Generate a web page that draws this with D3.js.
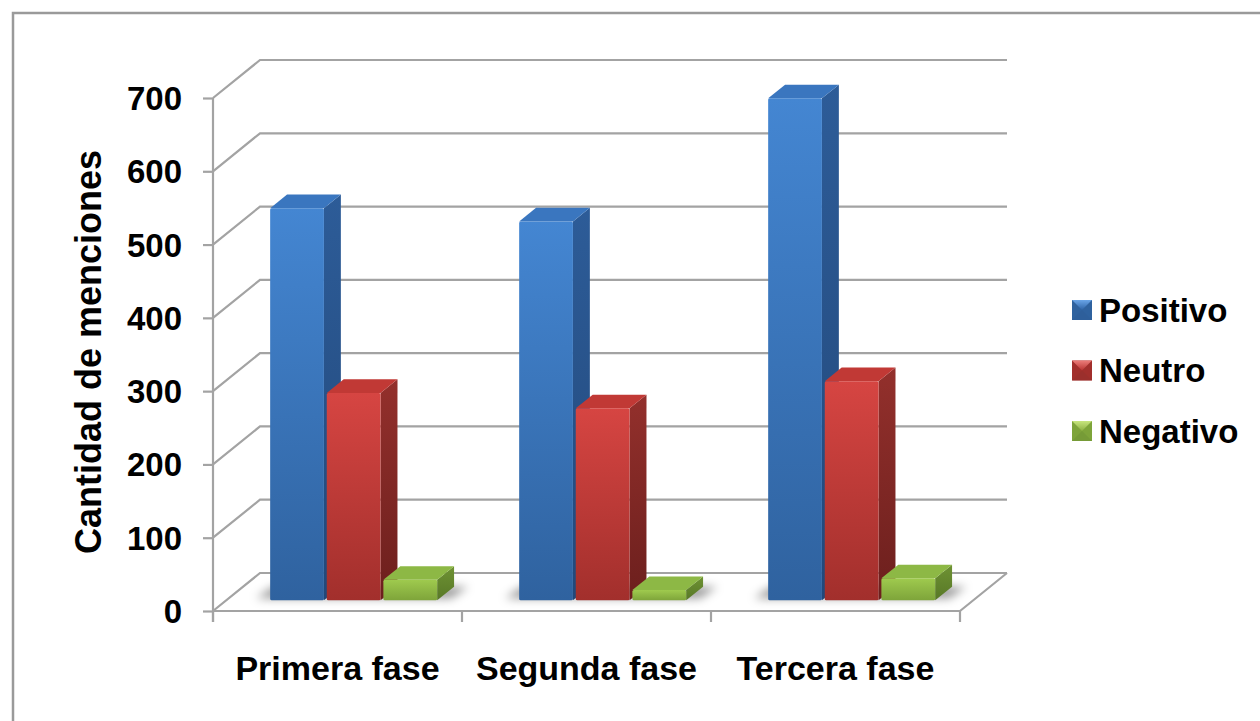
<!DOCTYPE html>
<html>
<head>
<meta charset="utf-8">
<script src="https://cdn.jsdelivr.net/npm/d3@7/dist/d3.min.js"></script>
<style>
  html, body { margin: 0; padding: 0; background: #fff; }
  svg { display: block; }
  text { font-family: "Liberation Sans", Arial, sans-serif; font-weight: bold; fill: #000; }
</style>
</head>
<body>
<svg id="chart" width="1260" height="721"></svg>
<script>
// Menciones por fase y tipo de valoración
const categories = ["Primera fase", "Segunda fase", "Tercera fase"];
const seriesNames = ["Positivo", "Neutro", "Negativo"];
const positivo = [535, 517, 685];
const neutro = [283, 262, 299];
const negativo = [28, 14, 30];
const yTicks = [0, 100, 200, 300, 400, 500, 600, 700];
const axisTitle = "Cantidad de menciones";

const seriesValues = [positivo, neutro, negativo];

// Colour sets per series: front (top/bottom), side (top/bottom), top face
const palette = [
  { front: ["#4486d2", "#2f629f"], side: ["#2d5c98", "#22487a"], top: "#3a76bf", marker: ["#6aa5e8", "#2e63a6"] },
  { front: ["#d64542", "#a22f2c"], side: ["#93302c", "#6c1f1d"], top: "#c13935", marker: ["#ec7d7a", "#b83331"] },
  { front: ["#9fca4e", "#7ea43a"], side: ["#6e9233", "#587827"], top: "#8db845", marker: ["#c8e67e", "#8db043"] }
];

const svg = d3.select("#chart");
const defs = svg.append("defs");

// Outer chart frame (top and left edges are visible)
svg.append("rect")
  .attr("x", 13).attr("y", 13)
  .attr("width", 1300).attr("height", 800)
  .attr("fill", "none")
  .attr("stroke", "#9a9a9a")
  .attr("stroke-width", 2.5);

// Scales on the front plane of the plot box
const x0 = d3.scaleBand().domain(categories).range([213, 960]).padding(0);
const y = d3.scaleLinear().domain([0, 700]).range([611, 98]);
// Oblique depth of the plot box
const depth = { dx: 47, dy: -38 };
// Bars occupy this slice of the depth
const barDepth = { from: 0.28, to: 0.64 };
const x1 = d3.scaleBand().domain(seriesNames)
  .range([44, 211]).paddingInner(0.05).paddingOuter(0);

const gridColor = "#a3a3a3";

// Back wall gridlines with their oblique links to the value axis
const grid = svg.append("g");
yTicks.forEach(v => {
  const fy = y(v);
  grid.append("path")
    .attr("d", `M${x0.range()[0]},${fy} L${x0.range()[0] + depth.dx},${fy + depth.dy} L${x0.range()[1] + depth.dx},${fy + depth.dy}`)
    .attr("fill", "none").attr("stroke", gridColor).attr("stroke-width", 2.2);
});

// Floor front and right edges
grid.append("path")
  .attr("d", `M${x0.range()[0]},${y(0)} L${x0.range()[1]},${y(0)} L${x0.range()[1] + depth.dx},${y(0) + depth.dy}`)
  .attr("fill", "none").attr("stroke", gridColor).attr("stroke-width", 2.2);

// Category ticks below the floor
const catTicks = categories.map(c => x0(c)).concat([x0.range()[1]]);
catTicks.forEach(tx => {
  grid.append("line")
    .attr("x1", tx).attr("x2", tx)
    .attr("y1", y(0)).attr("y2", y(0) + 11)
    .attr("stroke", gridColor).attr("stroke-width", 2.2);
});

// Value axis with ticks
const yAxis = d3.axisLeft(y).tickValues(yTicks).tickSize(10).tickPadding(20).tickFormat(d3.format("d"));
const yAxisG = svg.append("g").attr("transform", `translate(${x0.range()[0]},0)`).call(yAxis);
yAxisG.select(".domain").remove();
yAxisG.selectAll(".tick line").attr("stroke", gridColor).attr("stroke-width", 2.2);
yAxisG.selectAll(".tick text")
  .attr("font-size", 33).attr("font-weight", "bold").attr("fill", "#000")
  .attr("font-family", "'Liberation Sans', Arial, sans-serif")
  .attr("dy", "0.35em").attr("x", -31);
svg.append("line")
  .attr("x1", x0.range()[0]).attr("x2", x0.range()[0])
  .attr("y1", y(700)).attr("y2", y(0) + 11)
  .attr("stroke", gridColor).attr("stroke-width", 2.2);

// Category labels
svg.append("g").selectAll("text").data(categories).join("text")
  .attr("x", d => x0(d) + x0.bandwidth() / 2)
  .attr("y", 680)
  .attr("text-anchor", "middle")
  .attr("font-size", 34)
  .text(d => d);

// Value axis title
svg.append("text")
  .attr("transform", "translate(101,352) rotate(-90)")
  .attr("text-anchor", "middle")
  .attr("font-size", 36)
  .text(axisTitle);

// Gradients for bar faces
palette.forEach((p, i) => {
  const gf = defs.append("linearGradient").attr("id", `front${i}`)
    .attr("x1", 0).attr("y1", 0).attr("x2", 0).attr("y2", 1);
  gf.append("stop").attr("offset", "0%").attr("stop-color", p.front[0]);
  gf.append("stop").attr("offset", "100%").attr("stop-color", p.front[1]);
  const gs = defs.append("linearGradient").attr("id", `side${i}`)
    .attr("x1", 0).attr("y1", 0).attr("x2", 0).attr("y2", 1);
  gs.append("stop").attr("offset", "0%").attr("stop-color", p.side[0]);
  gs.append("stop").attr("offset", "100%").attr("stop-color", p.side[1]);
  const gm = defs.append("linearGradient").attr("id", `marker${i}`)
    .attr("x1", 0).attr("y1", 0).attr("x2", 0).attr("y2", 1);
  gm.append("stop").attr("offset", "0%").attr("stop-color", p.marker[0]);
  gm.append("stop").attr("offset", "100%").attr("stop-color", p.marker[1]);
});

// Soft floor shadow beneath the bars
const shadowFilter = defs.append("filter").attr("id", "floorShadow")
  .attr("x", "-30%").attr("y", "-100%").attr("width", "160%").attr("height", "300%");
shadowFilter.append("feGaussianBlur").attr("stdDeviation", 5);

const bars = [];
categories.forEach((c, ci) => {
  seriesNames.forEach((s, si) => {
    bars.push({ cat: c, series: s, si, value: seriesValues[si][ci] });
  });
});

const f0 = barDepth.from, f1 = barDepth.to;
function barGeom(d) {
  const left = x0(d.cat) + x1(d.series) + depth.dx * f0;
  const right = left + x1.bandwidth();
  const base = y(0) + depth.dy * f0;
  const top = base - (y(0) - y(d.value));
  const ddx = depth.dx * (f1 - f0), ddy = depth.dy * (f1 - f0);
  return { left, right, base, top, ddx, ddy };
}

const shadowG = svg.append("g").attr("filter", "url(#floorShadow)");
categories.forEach(c => {
  const first = barGeom({ cat: c, series: seriesNames[0], value: 0 });
  const last = barGeom({ cat: c, series: seriesNames[2], value: 0 });
  shadowG.append("path")
    .attr("d", `M${first.left - 14},${first.base - 2} L${last.right + 14},${first.base - 2} L${last.right + 14 + first.ddx},${first.base + first.ddy} L${first.left - 14 + first.ddx},${first.base + first.ddy} Z`)
    .attr("fill", "#000").attr("opacity", 0.4);
});

const barG = svg.append("g");
bars.forEach(d => {
  const g = barGeom(d);
  const p = palette[d.si];
  const grp = barG.append("g");
  // right side face
  grp.append("path")
    .attr("d", `M${g.right},${g.base} L${g.right + g.ddx},${g.base + g.ddy} L${g.right + g.ddx},${g.top + g.ddy} L${g.right},${g.top} Z`)
    .attr("fill", `url(#side${d.si})`);
  // top face
  grp.append("path")
    .attr("d", `M${g.left},${g.top} L${g.left + g.ddx},${g.top + g.ddy} L${g.right + g.ddx},${g.top + g.ddy} L${g.right},${g.top} Z`)
    .attr("fill", p.top);
  // front face
  grp.append("rect")
    .attr("x", g.left).attr("y", g.top)
    .attr("width", g.right - g.left).attr("height", g.base - g.top)
    .attr("rx", 1.5)
    .attr("fill", `url(#front${d.si})`);
});

// Legend
const legend = svg.append("g");
seriesNames.forEach((s, i) => {
  const cy = 310 + i * 60.5;
  const lg = legend.append("g").attr("transform", `translate(1072,${cy - 10})`);
  lg.append("rect").attr("width", 20).attr("height", 20).attr("fill", palette[i].front[1]);
  lg.append("path").attr("d", "M0,0 L20,0 L10,10 Z").attr("fill", `url(#marker${i})`);
  lg.append("path").attr("d", "M0,20 L20,20 L10,10 Z").attr("fill", palette[i].side[0]).attr("opacity", 0.5);
  legend.append("text")
    .attr("x", 1099).attr("y", cy)
    .attr("dy", "0.35em")
    .attr("font-size", 33)
    .text(s);
});
</script>
</body>
</html>
